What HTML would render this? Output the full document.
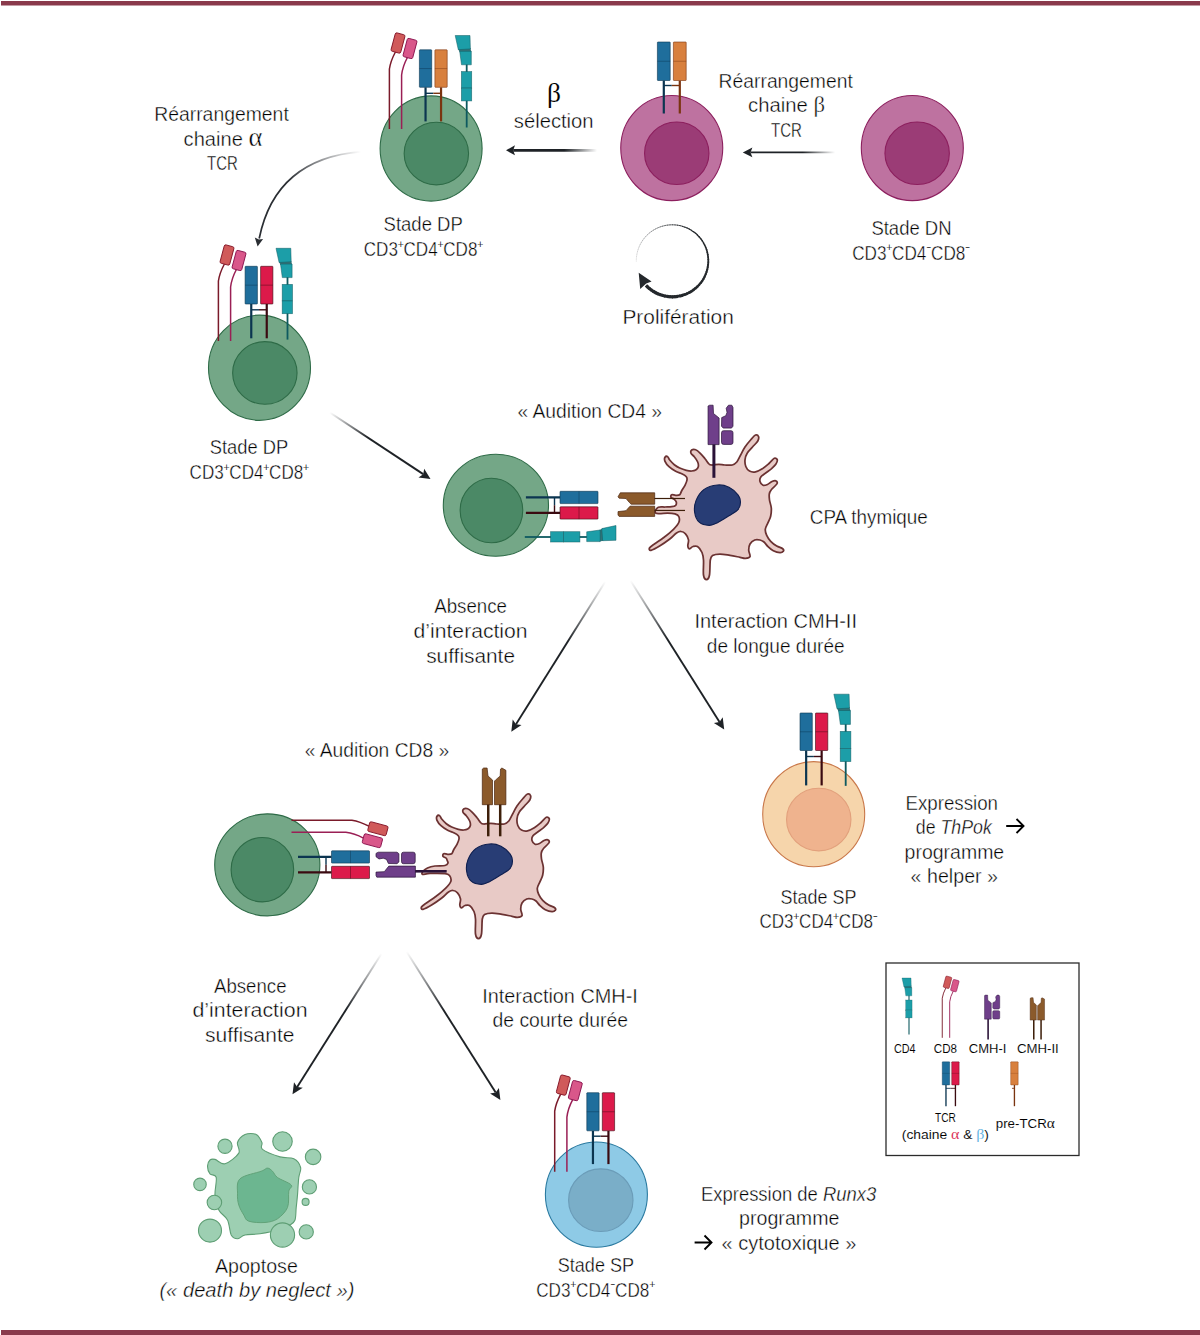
<!DOCTYPE html><html><head><meta charset="utf-8"><style>html,body{margin:0;padding:0;background:#fff;width:1200px;height:1335px;overflow:hidden}svg{display:block}text{font-family:"Liberation Sans",sans-serif;fill:#000000;stroke:#fff;stroke-width:0.4px}</style></head><body>
<svg width="1200" height="1335" viewBox="0 0 1200 1335">
<defs></defs>
<rect x="1" y="1" width="1199" height="4.5" fill="#8a3a4c"/>
<rect x="1" y="1330" width="1199" height="5" fill="#8a3a4c"/>
<ellipse cx="431.1" cy="148.5" rx="51" ry="52.6" fill="#74a787" stroke="#2e6b47" stroke-width="1.1"/>
<ellipse cx="436.35" cy="153.55" rx="32.2" ry="31.3" fill="#4b8966" stroke="#2e6b47" stroke-width="1.1"/>
<g transform="translate(398,43)">
<path d="M-2.6,9 Q-7.4,18 -8.6,26 L-8.6,86" fill="none" stroke="#7a1a2a" stroke-width="1.5"/>
<path d="M9.4,14.5 Q4.6,23.5 3.6,32 L3.6,86" fill="none" stroke="#9a1f55" stroke-width="1.5"/>
<rect x="-5" y="-9.5" width="10" height="19" rx="1.6" transform="rotate(15)" fill="#d05a5a" stroke="#86182a" stroke-width="0.9"/>
<rect x="-5" y="-9.5" width="10" height="19" rx="1.6" transform="translate(12,5.5) rotate(15)" fill="#d9578a" stroke="#8c1650" stroke-width="0.9"/>
</g>
<g transform="translate(433.3,49.8)">
<line x1="-7.75" y1="37.5" x2="-7.75" y2="71.6" stroke="#0b3550" stroke-width="2.2"/>
<line x1="7.75" y1="37.5" x2="7.75" y2="71.6" stroke="#7a3410" stroke-width="2.2"/>
<line x1="-7.75" y1="43.5" x2="0.00" y2="43.5" stroke="#0b3550" stroke-width="1.4"/>
<line x1="0.00" y1="43.5" x2="7.75" y2="43.5" stroke="#7a3410" stroke-width="1.4"/>
<rect x="-13.90" y="0" width="12.3" height="37.5" rx="0.6" fill="#1f6e9c" stroke="#0b3550" stroke-opacity="0.75" stroke-width="0.8"/>
<line x1="-13.90" y1="18.75" x2="-1.60" y2="18.75" stroke="#0b3550" stroke-opacity="0.55" stroke-width="0.8"/>
<rect x="1.60" y="0" width="12.3" height="37.5" rx="0.6" fill="#d8803e" stroke="#7a3410" stroke-opacity="0.75" stroke-width="0.8"/>
<line x1="1.60" y1="18.75" x2="13.90" y2="18.75" stroke="#7a3410" stroke-opacity="0.55" stroke-width="0.8"/>
</g>
<g transform="translate(466.7,35.5)">
<line x1="0" y1="28" x2="0" y2="37" stroke="#0e5a60" stroke-width="1.8"/>
<line x1="0" y1="64" x2="0" y2="92" stroke="#0e5a60" stroke-width="1.8"/>
<path d="M-8.6,13.2 L3.8,12.6 L4.6,16.5 L-7,16.8Z" fill="#0e5a60" opacity="0.85"/>
<path d="M-11.5,0 L3.3,0 L3.7,13.4 L-8.4,14.2Z" fill="#1c9ea8" stroke="#0e5a60" stroke-opacity="0.7" stroke-width="0.7"/>
<path d="M-7,15.8 L4.6,15.8 L4.6,29.3 L-5.2,29.3Z" fill="#1c9ea8" stroke="#0e5a60" stroke-opacity="0.7" stroke-width="0.7"/>
<rect x="-5.3" y="36.1" width="10.3" height="16.5" fill="#1c9ea8" stroke="#0e5a60" stroke-opacity="0.7" stroke-width="0.7"/>
<rect x="-5.3" y="52.6" width="10.3" height="12.8" fill="#1c9ea8" stroke="#0e5a60" stroke-opacity="0.7" stroke-width="0.7"/>
</g>
<ellipse cx="671.75" cy="148.05" rx="51" ry="52.6" fill="#be72a0" stroke="#8c1f5e" stroke-width="1.1"/>
<ellipse cx="676.75" cy="153.25" rx="32.2" ry="31.3" fill="#9b3c76" stroke="#8c1f5e" stroke-width="1.1"/>
<g transform="translate(671.8,42)">
<line x1="-8.00" y1="38.5" x2="-8.00" y2="71.5" stroke="#0b3550" stroke-width="2.2"/>
<line x1="8.00" y1="38.5" x2="8.00" y2="71.5" stroke="#7a3410" stroke-width="2.2"/>
<line x1="-8.00" y1="43.5" x2="0.00" y2="43.5" stroke="#0b3550" stroke-width="1.4"/>
<line x1="0.00" y1="43.5" x2="8.00" y2="43.5" stroke="#7a3410" stroke-width="1.4"/>
<rect x="-14.40" y="0" width="12.8" height="38.5" rx="0.6" fill="#1f6e9c" stroke="#0b3550" stroke-opacity="0.75" stroke-width="0.8"/>
<line x1="-14.40" y1="19.25" x2="-1.60" y2="19.25" stroke="#0b3550" stroke-opacity="0.55" stroke-width="0.8"/>
<rect x="1.60" y="0" width="12.8" height="38.5" rx="0.6" fill="#d8803e" stroke="#7a3410" stroke-opacity="0.75" stroke-width="0.8"/>
<line x1="1.60" y1="19.25" x2="14.40" y2="19.25" stroke="#7a3410" stroke-opacity="0.55" stroke-width="0.8"/>
</g>
<ellipse cx="912.3" cy="148.05" rx="51" ry="52.6" fill="#be72a0" stroke="#8c1f5e" stroke-width="1.1"/>
<ellipse cx="917.15" cy="153.25" rx="32.2" ry="31.3" fill="#9b3c76" stroke="#8c1f5e" stroke-width="1.1"/>
<ellipse cx="259.5" cy="367.75" rx="51" ry="52.6" fill="#74a787" stroke="#2e6b47" stroke-width="1.1"/>
<ellipse cx="264.85" cy="372.95" rx="32.2" ry="31.3" fill="#4b8966" stroke="#2e6b47" stroke-width="1.1"/>
<g transform="translate(227,255)">
<path d="M-2.6,9 Q-7.4,18 -8.6,26 L-8.6,86" fill="none" stroke="#7a1a2a" stroke-width="1.5"/>
<path d="M9.4,14.5 Q4.6,23.5 3.6,32 L3.6,86" fill="none" stroke="#9a1f55" stroke-width="1.5"/>
<rect x="-5" y="-9.5" width="10" height="19" rx="1.6" transform="rotate(15)" fill="#d05a5a" stroke="#86182a" stroke-width="0.9"/>
<rect x="-5" y="-9.5" width="10" height="19" rx="1.6" transform="translate(12,5.5) rotate(15)" fill="#d9578a" stroke="#8c1650" stroke-width="0.9"/>
</g>
<g transform="translate(259,266.3)">
<line x1="-7.75" y1="37.7" x2="-7.75" y2="72" stroke="#0b3550" stroke-width="2.2"/>
<line x1="7.75" y1="37.7" x2="7.75" y2="72" stroke="#3a0a10" stroke-width="2.2"/>
<line x1="-7.75" y1="43.5" x2="0.00" y2="43.5" stroke="#0b3550" stroke-width="1.4"/>
<line x1="0.00" y1="43.5" x2="7.75" y2="43.5" stroke="#3a0a10" stroke-width="1.4"/>
<rect x="-13.90" y="0" width="12.3" height="37.7" rx="0.6" fill="#1f6e9c" stroke="#0b3550" stroke-opacity="0.75" stroke-width="0.8"/>
<line x1="-13.90" y1="18.85" x2="-1.60" y2="18.85" stroke="#0b3550" stroke-opacity="0.55" stroke-width="0.8"/>
<rect x="1.60" y="0" width="12.3" height="37.7" rx="0.6" fill="#dc1a4a" stroke="#3a0a10" stroke-opacity="0.75" stroke-width="0.8"/>
<line x1="1.60" y1="18.85" x2="13.90" y2="18.85" stroke="#3a0a10" stroke-opacity="0.55" stroke-width="0.8"/>
</g>
<g transform="translate(287.5,248.3)">
<line x1="0" y1="28" x2="0" y2="37" stroke="#0e5a60" stroke-width="1.8"/>
<line x1="0" y1="64" x2="0" y2="91.3" stroke="#0e5a60" stroke-width="1.8"/>
<path d="M-8.6,13.2 L3.8,12.6 L4.6,16.5 L-7,16.8Z" fill="#0e5a60" opacity="0.85"/>
<path d="M-11.5,0 L3.3,0 L3.7,13.4 L-8.4,14.2Z" fill="#1c9ea8" stroke="#0e5a60" stroke-opacity="0.7" stroke-width="0.7"/>
<path d="M-7,15.8 L4.6,15.8 L4.6,29.3 L-5.2,29.3Z" fill="#1c9ea8" stroke="#0e5a60" stroke-opacity="0.7" stroke-width="0.7"/>
<rect x="-5.3" y="36.1" width="10.3" height="16.5" fill="#1c9ea8" stroke="#0e5a60" stroke-opacity="0.7" stroke-width="0.7"/>
<rect x="-5.3" y="52.6" width="10.3" height="12.8" fill="#1c9ea8" stroke="#0e5a60" stroke-opacity="0.7" stroke-width="0.7"/>
</g>
<ellipse cx="495.9" cy="505.25" rx="52.6" ry="51" fill="#74a787" stroke="#2e6b47" stroke-width="1.1"/>
<ellipse cx="491.45" cy="510.5" rx="31.3" ry="32.2" fill="#4b8966" stroke="#2e6b47" stroke-width="1.1"/>
<g transform="translate(0,0)">
<path d="M711.7,465.0 C713.3,465.1 716.6,464.3 718.8,464.3 C721.0,464.3 722.5,464.9 724.8,465.0 C727.0,465.1 730.3,465.5 732.3,465.0 C734.3,464.5 735.4,463.6 736.8,462.0 C738.2,460.4 739.1,457.8 740.5,455.3 C741.9,452.8 743.2,449.6 745.0,447.0 C746.8,444.4 749.2,441.5 751.0,439.5 C752.8,437.5 754.2,435.5 755.5,435.0 C756.8,434.5 758.1,435.5 758.5,436.5 C758.9,437.5 758.8,439.2 757.8,441.0 C756.8,442.8 754.2,445.0 752.5,447.0 C750.8,449.0 748.5,450.9 747.3,453.0 C746.0,455.1 745.2,457.6 745.0,459.8 C744.8,462.1 745.0,464.6 745.8,466.5 C746.5,468.4 747.9,470.1 749.5,471.0 C751.1,471.9 753.4,472.2 755.5,471.8 C757.6,471.4 760.0,470.2 762.3,468.8 C764.5,467.4 767.0,465.2 769.0,463.5 C771.0,461.8 772.9,458.9 774.3,458.3 C775.7,457.7 777.0,458.8 777.3,459.8 C777.5,460.8 776.8,462.8 775.8,464.3 C774.8,465.8 773.0,467.3 771.3,468.8 C769.5,470.3 767.0,471.9 765.3,473.3 C763.5,474.7 761.7,475.6 760.8,477.0 C759.9,478.4 759.6,480.1 760.0,481.5 C760.4,482.9 761.8,484.8 763.0,485.3 C764.2,485.8 766.0,485.1 767.5,484.5 C769.0,483.9 770.6,482.1 772.0,481.5 C773.4,480.9 774.9,480.6 775.8,480.8 C776.7,481.1 777.4,482.1 777.3,483.0 C777.2,483.9 776.0,484.9 775.0,486.0 C774.0,487.1 772.2,488.5 771.3,489.8 C770.3,491.1 769.6,492.3 769.3,494.0 C769.0,495.7 769.2,497.7 769.5,500.0 C769.8,502.3 771.1,505.3 771.3,508.0 C771.5,510.7 771.2,513.5 770.7,516.0 C770.2,518.5 768.9,520.5 768.0,522.7 C767.1,524.9 765.5,527.2 765.3,529.3 C765.1,531.4 765.8,533.3 766.7,535.3 C767.6,537.3 769.0,539.5 770.7,541.3 C772.4,543.1 774.7,544.8 776.7,546.0 C778.7,547.2 781.6,547.8 782.7,548.7 C783.8,549.6 783.8,550.6 783.3,551.3 C782.8,552.0 781.7,552.8 780.0,552.7 C778.3,552.6 775.3,551.7 773.3,550.7 C771.3,549.7 769.5,548.2 768.0,546.7 C766.5,545.2 765.3,543.1 764.0,542.0 C762.7,540.9 761.5,540.3 760.0,540.0 C758.5,539.7 756.4,539.3 754.7,540.0 C753.0,540.7 751.0,542.3 750.0,544.0 C749.0,545.7 748.7,547.9 748.7,550.0 C748.7,552.1 750.6,555.3 750.0,556.7 C749.4,558.1 747.0,558.2 745.3,558.3 C743.6,558.4 742.5,557.8 740.0,557.3 C737.5,556.8 733.3,555.8 730.0,555.3 C726.7,554.8 722.9,554.0 720.0,554.0 C717.1,554.0 714.1,554.5 712.5,555.5 C710.9,556.5 710.8,556.8 710.3,560.0 C709.8,563.2 710.1,571.8 709.5,575.0 C708.9,578.2 707.5,579.5 706.5,579.5 C705.5,579.5 704.0,578.2 703.5,575.0 C703.0,571.8 703.8,563.8 703.5,560.0 C703.2,556.2 703.0,554.8 702.0,552.5 C701.0,550.2 699.0,547.5 697.5,546.5 C696.0,545.5 694.4,546.1 693.0,546.5 C691.6,546.9 690.2,548.9 689.3,548.8 C688.4,548.7 687.9,547.3 687.8,545.8 C687.7,544.3 688.9,541.8 688.5,539.8 C688.1,537.8 686.8,535.2 685.5,533.8 C684.2,532.4 682.5,531.6 681.0,531.5 C679.5,531.4 678.4,531.8 676.5,533.0 C674.6,534.2 672.5,536.9 669.8,539.0 C667.0,541.1 663.1,543.9 660.0,545.8 C656.9,547.7 652.8,549.9 651.0,550.3 C649.2,550.7 649.0,549.0 649.5,548.0 C650.0,547.0 651.6,546.0 654.0,544.3 C656.4,542.5 660.5,540.0 663.8,537.5 C667.0,535.0 671.0,531.8 673.5,529.3 C676.0,526.8 677.9,524.6 678.8,522.5 C679.7,520.4 679.4,517.9 678.8,516.5 C678.2,515.1 676.9,514.5 675.0,513.9 C673.1,513.3 670.2,513.1 667.5,513.1 C664.8,513.1 660.6,513.8 658.5,513.6 C656.4,513.4 655.0,513.0 655.0,512.0 C655.0,510.9 656.6,508.1 658.3,507.3 C660.0,506.5 662.8,507.1 665.0,507.0 C667.2,506.9 669.9,507.0 671.7,506.7 C673.5,506.4 674.9,506.1 675.7,505.3 C676.5,504.5 676.5,503.0 676.3,502.0 C676.1,501.0 675.2,500.1 674.3,499.3 C673.4,498.5 671.4,498.1 671.0,497.3 C670.6,496.5 670.9,495.0 671.7,494.7 C672.5,494.4 674.4,495.3 675.7,495.3 C677.0,495.3 678.7,495.5 679.7,494.7 C680.7,493.9 680.8,492.3 681.7,490.7 C682.6,489.1 684.1,487.1 685.0,485.3 C685.9,483.5 686.8,481.4 687.0,480.0 C687.2,478.6 687.1,477.7 686.3,476.7 C685.5,475.7 684.1,474.9 682.3,474.0 C680.5,473.1 677.9,472.5 675.7,471.3 C673.5,470.1 670.8,468.4 669.0,466.7 C667.2,465.0 665.7,462.9 665.0,461.3 C664.3,459.7 664.5,458.1 665.0,457.3 C665.5,456.5 666.9,456.2 667.7,456.7 C668.5,457.1 668.6,458.7 669.7,460.0 C670.8,461.3 672.6,463.4 674.3,464.7 C676.0,466.0 677.7,467.1 679.7,468.0 C681.7,468.9 684.3,469.8 686.3,470.3 C688.3,470.8 690.1,471.1 691.7,471.0 C693.3,470.9 694.6,470.7 695.7,470.0 C696.8,469.3 698.0,468.0 698.3,466.7 C698.6,465.4 698.4,463.7 697.7,462.0 C697.0,460.3 695.4,458.1 694.3,456.7 C693.2,455.2 691.4,454.4 691.0,453.3 C690.6,452.2 690.9,450.6 691.7,450.0 C692.5,449.4 694.3,449.1 695.7,449.7 C697.1,450.2 698.8,451.8 700.3,453.3 C701.8,454.8 703.5,456.9 705.0,458.7 C706.5,460.5 707.9,462.9 709.0,464.0 C710.1,465.1 710.1,464.9 711.7,465.0Z" fill="#e8cac6" stroke="#6b3232" stroke-width="1.75" stroke-linejoin="round"/>
<path d="M717.5,485.0 C721.7,484.6 725.5,485.6 729.0,487.3 C732.5,489.0 736.3,492.7 738.2,495.1 C740.1,497.6 740.5,499.6 740.5,502.0 C740.5,504.4 740.1,507.1 738.2,509.4 C736.3,511.7 732.5,513.6 729.0,515.8 C725.5,518.0 720.8,521.1 717.5,522.7 C714.2,524.3 712.3,525.5 709.3,525.4 C706.2,525.3 701.7,524.4 699.2,522.2 C696.8,520.0 695.1,515.7 694.6,512.1 C694.1,508.5 694.5,504.4 696.0,500.6 C697.5,496.9 700.2,492.2 703.8,489.6 C707.4,487.0 713.3,485.4 717.5,485.0Z" fill="#283d75" stroke="#0f1f4f" stroke-width="1.1"/>
</g>
<g transform="translate(713.9,405.2)">
<line x1="0" y1="39" x2="0" y2="72.6" stroke="#2a1238" stroke-width="3"/>
<path d="M-5.85,0.8 L-4.2,0 L-0.8,0 L-0.4,8.3 L5.2,12.8 L5.2,39.4 L-5.85,39.4Z" fill="#6f3f8a" stroke="#2a1238" stroke-width="0.7"/>
<path d="M7.8,12.4 L11.9,10.5 L13.1,7.2 L12.3,3 L14.6,0 L17.9,0 L19.1,2.3 L19.1,21 L17.6,22.9 L9.3,22.9 L7.6,21Z" fill="#6f3f8a" stroke="#2a1238" stroke-width="0.7"/>
<rect x="7.6" y="25.5" width="11.5" height="13.7" rx="2" fill="#6f3f8a" stroke="#2a1238" stroke-width="0.7"/>
</g>
<g transform="translate(598,505.2) rotate(90)">
<line x1="-7.75" y1="38" x2="-7.75" y2="72.1" stroke="#0b3550" stroke-width="2.2"/>
<line x1="7.75" y1="38" x2="7.75" y2="72.1" stroke="#3a0a10" stroke-width="2.2"/>
<line x1="-7.75" y1="43.5" x2="0.00" y2="43.5" stroke="#0b3550" stroke-width="1.4"/>
<line x1="0.00" y1="43.5" x2="7.75" y2="43.5" stroke="#3a0a10" stroke-width="1.4"/>
<rect x="-13.90" y="0" width="12.3" height="38" rx="0.6" fill="#1f6e9c" stroke="#0b3550" stroke-opacity="0.75" stroke-width="0.8"/>
<line x1="-13.90" y1="19.0" x2="-1.60" y2="19.0" stroke="#0b3550" stroke-opacity="0.55" stroke-width="0.8"/>
<rect x="1.60" y="0" width="12.3" height="38" rx="0.6" fill="#dc1a4a" stroke="#3a0a10" stroke-opacity="0.75" stroke-width="0.8"/>
<line x1="1.60" y1="19.0" x2="13.90" y2="19.0" stroke="#3a0a10" stroke-opacity="0.55" stroke-width="0.8"/>
</g>
<g transform="translate(616,537) rotate(90)">
<line x1="0" y1="28" x2="0" y2="37" stroke="#0e5a60" stroke-width="1.8"/>
<line x1="0" y1="64" x2="0" y2="91.2" stroke="#0e5a60" stroke-width="1.8"/>
<path d="M-8.6,13.2 L3.8,12.6 L4.6,16.5 L-7,16.8Z" fill="#0e5a60" opacity="0.85"/>
<path d="M-11.5,0 L3.3,0 L3.7,13.4 L-8.4,14.2Z" fill="#1c9ea8" stroke="#0e5a60" stroke-opacity="0.7" stroke-width="0.7"/>
<path d="M-7,15.8 L4.6,15.8 L4.6,29.3 L-5.2,29.3Z" fill="#1c9ea8" stroke="#0e5a60" stroke-opacity="0.7" stroke-width="0.7"/>
<rect x="-5.3" y="36.1" width="10.3" height="16.5" fill="#1c9ea8" stroke="#0e5a60" stroke-opacity="0.7" stroke-width="0.7"/>
<rect x="-5.3" y="52.6" width="10.3" height="12.8" fill="#1c9ea8" stroke="#0e5a60" stroke-opacity="0.7" stroke-width="0.7"/>
</g>
<g transform="translate(618,504.5) rotate(-90)">
<line x1="-5.95" y1="36" x2="-5.95" y2="67" stroke="#3d1f0a" stroke-width="1.2"/>
<line x1="6" y1="36" x2="6" y2="67" stroke="#3d1f0a" stroke-width="1.2"/>
<path d="M-11.9,1.1 L-10.5,0 L-7.1,0 L-6.2,8 L-1.7,12 L-1.7,36.7 L-11.9,36.7Z" fill="#8b5a2b" stroke="#4a2510" stroke-width="0.7"/>
<path d="M0.3,13.1 L2,11.4 L6,8 L6.3,1.1 L7.7,0 L11.7,2.3 L11.7,36.7 L0.3,36.7Z" fill="#8b5a2b" stroke="#4a2510" stroke-width="0.7"/>
</g>
<ellipse cx="267.3" cy="864.85" rx="52.6" ry="51" fill="#74a787" stroke="#2e6b47" stroke-width="1.1"/>
<ellipse cx="262.4" cy="869.7" rx="31.3" ry="32.2" fill="#4b8966" stroke="#2e6b47" stroke-width="1.1"/>
<g transform="translate(-228,359)">
<path d="M711.7,465.0 C713.3,465.1 716.6,464.3 718.8,464.3 C721.0,464.3 722.5,464.9 724.8,465.0 C727.0,465.1 730.3,465.5 732.3,465.0 C734.3,464.5 735.4,463.6 736.8,462.0 C738.2,460.4 739.1,457.8 740.5,455.3 C741.9,452.8 743.2,449.6 745.0,447.0 C746.8,444.4 749.2,441.5 751.0,439.5 C752.8,437.5 754.2,435.5 755.5,435.0 C756.8,434.5 758.1,435.5 758.5,436.5 C758.9,437.5 758.8,439.2 757.8,441.0 C756.8,442.8 754.2,445.0 752.5,447.0 C750.8,449.0 748.5,450.9 747.3,453.0 C746.0,455.1 745.2,457.6 745.0,459.8 C744.8,462.1 745.0,464.6 745.8,466.5 C746.5,468.4 747.9,470.1 749.5,471.0 C751.1,471.9 753.4,472.2 755.5,471.8 C757.6,471.4 760.0,470.2 762.3,468.8 C764.5,467.4 767.0,465.2 769.0,463.5 C771.0,461.8 772.9,458.9 774.3,458.3 C775.7,457.7 777.0,458.8 777.3,459.8 C777.5,460.8 776.8,462.8 775.8,464.3 C774.8,465.8 773.0,467.3 771.3,468.8 C769.5,470.3 767.0,471.9 765.3,473.3 C763.5,474.7 761.7,475.6 760.8,477.0 C759.9,478.4 759.6,480.1 760.0,481.5 C760.4,482.9 761.8,484.8 763.0,485.3 C764.2,485.8 766.0,485.1 767.5,484.5 C769.0,483.9 770.6,482.1 772.0,481.5 C773.4,480.9 774.9,480.6 775.8,480.8 C776.7,481.1 777.4,482.1 777.3,483.0 C777.2,483.9 776.0,484.9 775.0,486.0 C774.0,487.1 772.2,488.5 771.3,489.8 C770.3,491.1 769.6,492.3 769.3,494.0 C769.0,495.7 769.2,497.7 769.5,500.0 C769.8,502.3 771.1,505.3 771.3,508.0 C771.5,510.7 771.2,513.5 770.7,516.0 C770.2,518.5 768.9,520.5 768.0,522.7 C767.1,524.9 765.5,527.2 765.3,529.3 C765.1,531.4 765.8,533.3 766.7,535.3 C767.6,537.3 769.0,539.5 770.7,541.3 C772.4,543.1 774.7,544.8 776.7,546.0 C778.7,547.2 781.6,547.8 782.7,548.7 C783.8,549.6 783.8,550.6 783.3,551.3 C782.8,552.0 781.7,552.8 780.0,552.7 C778.3,552.6 775.3,551.7 773.3,550.7 C771.3,549.7 769.5,548.2 768.0,546.7 C766.5,545.2 765.3,543.1 764.0,542.0 C762.7,540.9 761.5,540.3 760.0,540.0 C758.5,539.7 756.4,539.3 754.7,540.0 C753.0,540.7 751.0,542.3 750.0,544.0 C749.0,545.7 748.7,547.9 748.7,550.0 C748.7,552.1 750.6,555.3 750.0,556.7 C749.4,558.1 747.0,558.2 745.3,558.3 C743.6,558.4 742.5,557.8 740.0,557.3 C737.5,556.8 733.3,555.8 730.0,555.3 C726.7,554.8 722.9,554.0 720.0,554.0 C717.1,554.0 714.1,554.5 712.5,555.5 C710.9,556.5 710.8,556.8 710.3,560.0 C709.8,563.2 710.1,571.8 709.5,575.0 C708.9,578.2 707.5,579.5 706.5,579.5 C705.5,579.5 704.0,578.2 703.5,575.0 C703.0,571.8 703.8,563.8 703.5,560.0 C703.2,556.2 703.0,554.8 702.0,552.5 C701.0,550.2 699.0,547.5 697.5,546.5 C696.0,545.5 694.4,546.1 693.0,546.5 C691.6,546.9 690.2,548.9 689.3,548.8 C688.4,548.7 687.9,547.3 687.8,545.8 C687.7,544.3 688.9,541.8 688.5,539.8 C688.1,537.8 686.8,535.2 685.5,533.8 C684.2,532.4 682.5,531.6 681.0,531.5 C679.5,531.4 678.4,531.8 676.5,533.0 C674.6,534.2 672.5,536.9 669.8,539.0 C667.0,541.1 663.1,543.9 660.0,545.8 C656.9,547.7 652.8,549.9 651.0,550.3 C649.2,550.7 649.0,549.0 649.5,548.0 C650.0,547.0 651.6,546.0 654.0,544.3 C656.4,542.5 660.5,540.0 663.8,537.5 C667.0,535.0 671.0,531.8 673.5,529.3 C676.0,526.8 678.1,524.6 678.8,522.5 C679.5,520.4 678.5,517.8 677.5,516.5 C676.5,515.2 676.2,515.0 673.0,514.6 C669.8,514.2 661.8,514.3 658.0,514.4 C654.2,514.5 651.7,515.6 650.5,515.3 C649.3,514.9 650.2,513.3 651.0,512.3 C651.8,511.2 653.5,509.9 655.5,509.0 C657.5,508.1 660.1,507.4 663.0,507.0 C665.9,506.6 670.8,507.0 673.0,506.5 C675.2,506.0 675.7,504.9 676.0,504.0 C676.3,503.1 675.3,501.8 675.0,501.0 C674.7,500.2 675.0,499.9 674.3,499.3 C673.6,498.7 671.4,498.1 671.0,497.3 C670.6,496.5 670.9,495.0 671.7,494.7 C672.5,494.4 674.4,495.3 675.7,495.3 C677.0,495.3 678.7,495.5 679.7,494.7 C680.7,493.9 680.8,492.3 681.7,490.7 C682.6,489.1 684.1,487.1 685.0,485.3 C685.9,483.5 686.8,481.4 687.0,480.0 C687.2,478.6 687.1,477.7 686.3,476.7 C685.5,475.7 684.1,474.9 682.3,474.0 C680.5,473.1 677.9,472.5 675.7,471.3 C673.5,470.1 670.8,468.4 669.0,466.7 C667.2,465.0 665.7,462.9 665.0,461.3 C664.3,459.7 664.5,458.1 665.0,457.3 C665.5,456.5 666.9,456.2 667.7,456.7 C668.5,457.1 668.6,458.7 669.7,460.0 C670.8,461.3 672.6,463.4 674.3,464.7 C676.0,466.0 677.7,467.1 679.7,468.0 C681.7,468.9 684.3,469.8 686.3,470.3 C688.3,470.8 690.1,471.1 691.7,471.0 C693.3,470.9 694.6,470.7 695.7,470.0 C696.8,469.3 698.0,468.0 698.3,466.7 C698.6,465.4 698.4,463.7 697.7,462.0 C697.0,460.3 695.4,458.1 694.3,456.7 C693.2,455.2 691.4,454.4 691.0,453.3 C690.6,452.2 690.9,450.6 691.7,450.0 C692.5,449.4 694.3,449.1 695.7,449.7 C697.1,450.2 698.8,451.8 700.3,453.3 C701.8,454.8 703.5,456.9 705.0,458.7 C706.5,460.5 707.9,462.9 709.0,464.0 C710.1,465.1 710.1,464.9 711.7,465.0Z" fill="#e8cac6" stroke="#6b3232" stroke-width="1.75" stroke-linejoin="round"/>
<path d="M717.5,485.0 C721.7,484.6 725.5,485.6 729.0,487.3 C732.5,489.0 736.3,492.7 738.2,495.1 C740.1,497.6 740.5,499.6 740.5,502.0 C740.5,504.4 740.1,507.1 738.2,509.4 C736.3,511.7 732.5,513.6 729.0,515.8 C725.5,518.0 720.8,521.1 717.5,522.7 C714.2,524.3 712.3,525.5 709.3,525.4 C706.2,525.3 701.7,524.4 699.2,522.2 C696.8,520.0 695.1,515.7 694.6,512.1 C694.1,508.5 694.5,504.4 696.0,500.6 C697.5,496.9 700.2,492.2 703.8,489.6 C707.4,487.0 713.3,485.4 717.5,485.0Z" fill="#283d75" stroke="#0f1f4f" stroke-width="1.1"/>
</g>
<g transform="translate(494.2,768)">
<line x1="-5.95" y1="36" x2="-5.95" y2="68.3" stroke="#3d1f0a" stroke-width="2.5"/>
<line x1="6" y1="36" x2="6" y2="68.3" stroke="#3d1f0a" stroke-width="2.5"/>
<path d="M-11.9,1.1 L-10.5,0 L-7.1,0 L-6.2,8 L-1.7,12 L-1.7,36.7 L-11.9,36.7Z" fill="#8b5a2b" stroke="#4a2510" stroke-width="0.7"/>
<path d="M0.3,13.1 L2,11.4 L6,8 L6.3,1.1 L7.7,0 L11.7,2.3 L11.7,36.7 L0.3,36.7Z" fill="#8b5a2b" stroke="#4a2510" stroke-width="0.7"/>
</g>
<g transform="translate(377.9,828.75) rotate(90)">
<path d="M-2.6,9 Q-7.4,18 -8.6,26 L-8.6,86.4" fill="none" stroke="#7a1a2a" stroke-width="1.5"/>
<path d="M9.4,14.5 Q4.6,23.5 3.6,32 L3.6,86.4" fill="none" stroke="#9a1f55" stroke-width="1.5"/>
<rect x="-5" y="-9.5" width="10" height="19" rx="1.6" transform="rotate(15)" fill="#d05a5a" stroke="#86182a" stroke-width="0.9"/>
<rect x="-5" y="-9.5" width="10" height="19" rx="1.6" transform="translate(12,5.5) rotate(15)" fill="#d9578a" stroke="#8c1650" stroke-width="0.9"/>
</g>
<g transform="translate(369.5,864.7) rotate(90)">
<line x1="-7.75" y1="38" x2="-7.75" y2="71.5" stroke="#0b3550" stroke-width="2.2"/>
<line x1="7.75" y1="38" x2="7.75" y2="71.5" stroke="#3a0a10" stroke-width="2.2"/>
<line x1="-7.75" y1="43.5" x2="0.00" y2="43.5" stroke="#0b3550" stroke-width="1.4"/>
<line x1="0.00" y1="43.5" x2="7.75" y2="43.5" stroke="#3a0a10" stroke-width="1.4"/>
<rect x="-13.90" y="0" width="12.3" height="38" rx="0.6" fill="#1f6e9c" stroke="#0b3550" stroke-opacity="0.75" stroke-width="0.8"/>
<line x1="-13.90" y1="19.0" x2="-1.60" y2="19.0" stroke="#0b3550" stroke-opacity="0.55" stroke-width="0.8"/>
<rect x="1.60" y="0" width="12.3" height="38" rx="0.6" fill="#dc1a4a" stroke="#3a0a10" stroke-opacity="0.75" stroke-width="0.8"/>
<line x1="1.60" y1="19.0" x2="13.90" y2="19.0" stroke="#3a0a10" stroke-opacity="0.55" stroke-width="0.8"/>
</g>
<g transform="translate(376,871.3) rotate(-90)">
<line x1="0" y1="39" x2="0" y2="70.7" stroke="#2a1238" stroke-width="2.6"/>
<path d="M-5.85,0.8 L-4.2,0 L-0.8,0 L-0.4,8.3 L5.2,12.8 L5.2,39.4 L-5.85,39.4Z" fill="#6f3f8a" stroke="#2a1238" stroke-width="0.7"/>
<path d="M7.8,12.4 L11.9,10.5 L13.1,7.2 L12.3,3 L14.6,0 L17.9,0 L19.1,2.3 L19.1,21 L17.6,22.9 L9.3,22.9 L7.6,21Z" fill="#6f3f8a" stroke="#2a1238" stroke-width="0.7"/>
<rect x="7.6" y="25.5" width="11.5" height="13.7" rx="2" fill="#6f3f8a" stroke="#2a1238" stroke-width="0.7"/>
</g>
<ellipse cx="813.7" cy="814.2" rx="51" ry="52.6" fill="#f6d5ab" stroke="#c9784a" stroke-width="1.1"/>
<ellipse cx="818.75" cy="819.55" rx="32.2" ry="31.3" fill="#efb38e" stroke="#e2a07c" stroke-width="1.1"/>
<g transform="translate(813.9,713)">
<line x1="-7.75" y1="37.5" x2="-7.75" y2="72.4" stroke="#0b3550" stroke-width="2.2"/>
<line x1="7.75" y1="37.5" x2="7.75" y2="72.4" stroke="#3a0a10" stroke-width="2.2"/>
<line x1="-7.75" y1="43.5" x2="0.00" y2="43.5" stroke="#0b3550" stroke-width="1.4"/>
<line x1="0.00" y1="43.5" x2="7.75" y2="43.5" stroke="#3a0a10" stroke-width="1.4"/>
<rect x="-13.90" y="0" width="12.3" height="37.5" rx="0.6" fill="#1f6e9c" stroke="#0b3550" stroke-opacity="0.75" stroke-width="0.8"/>
<line x1="-13.90" y1="18.75" x2="-1.60" y2="18.75" stroke="#0b3550" stroke-opacity="0.55" stroke-width="0.8"/>
<rect x="1.60" y="0" width="12.3" height="37.5" rx="0.6" fill="#dc1a4a" stroke="#3a0a10" stroke-opacity="0.75" stroke-width="0.8"/>
<line x1="1.60" y1="18.75" x2="13.90" y2="18.75" stroke="#3a0a10" stroke-opacity="0.55" stroke-width="0.8"/>
</g>
<g transform="translate(845.7,694.2) scale(1.03)">
<line x1="0" y1="28" x2="0" y2="37" stroke="#0e5a60" stroke-width="1.8"/>
<line x1="0" y1="64" x2="0" y2="89" stroke="#0e5a60" stroke-width="1.8"/>
<path d="M-8.6,13.2 L3.8,12.6 L4.6,16.5 L-7,16.8Z" fill="#0e5a60" opacity="0.85"/>
<path d="M-11.5,0 L3.3,0 L3.7,13.4 L-8.4,14.2Z" fill="#1c9ea8" stroke="#0e5a60" stroke-opacity="0.7" stroke-width="0.7"/>
<path d="M-7,15.8 L4.6,15.8 L4.6,29.3 L-5.2,29.3Z" fill="#1c9ea8" stroke="#0e5a60" stroke-opacity="0.7" stroke-width="0.7"/>
<rect x="-5.3" y="36.1" width="10.3" height="16.5" fill="#1c9ea8" stroke="#0e5a60" stroke-opacity="0.7" stroke-width="0.7"/>
<rect x="-5.3" y="52.6" width="10.3" height="12.8" fill="#1c9ea8" stroke="#0e5a60" stroke-opacity="0.7" stroke-width="0.7"/>
</g>
<ellipse cx="596.4" cy="1194.6" rx="51" ry="52.6" fill="#8ecae6" stroke="#2a7aa0" stroke-width="1.1"/>
<ellipse cx="600.8" cy="1200.15" rx="32.2" ry="31.3" fill="#7aaec8" stroke="#6b9cb8" stroke-width="1.1"/>
<g transform="translate(563.3,1085.1)">
<path d="M-2.6,9 Q-7.4,18 -8.6,26 L-8.6,86.6" fill="none" stroke="#7a1a2a" stroke-width="1.5"/>
<path d="M9.4,14.5 Q4.6,23.5 3.6,32 L3.6,86.6" fill="none" stroke="#9a1f55" stroke-width="1.5"/>
<rect x="-5" y="-9.5" width="10" height="19" rx="1.6" transform="rotate(15)" fill="#d05a5a" stroke="#86182a" stroke-width="0.9"/>
<rect x="-5" y="-9.5" width="10" height="19" rx="1.6" transform="translate(12,5.5) rotate(15)" fill="#d9578a" stroke="#8c1650" stroke-width="0.9"/>
</g>
<g transform="translate(600.7,1092.7)">
<line x1="-7.75" y1="38.1" x2="-7.75" y2="71.4" stroke="#0b3550" stroke-width="2.2"/>
<line x1="7.75" y1="38.1" x2="7.75" y2="71.4" stroke="#3a0a10" stroke-width="2.2"/>
<line x1="-7.75" y1="43.5" x2="0.00" y2="43.5" stroke="#0b3550" stroke-width="1.4"/>
<line x1="0.00" y1="43.5" x2="7.75" y2="43.5" stroke="#3a0a10" stroke-width="1.4"/>
<rect x="-13.90" y="0" width="12.3" height="38.1" rx="0.6" fill="#1f6e9c" stroke="#0b3550" stroke-opacity="0.75" stroke-width="0.8"/>
<line x1="-13.90" y1="19.05" x2="-1.60" y2="19.05" stroke="#0b3550" stroke-opacity="0.55" stroke-width="0.8"/>
<rect x="1.60" y="0" width="12.3" height="38.1" rx="0.6" fill="#dc1a4a" stroke="#3a0a10" stroke-opacity="0.75" stroke-width="0.8"/>
<line x1="1.60" y1="19.05" x2="13.90" y2="19.05" stroke="#3a0a10" stroke-opacity="0.55" stroke-width="0.8"/>
</g>
<linearGradient id="g1" gradientUnits="userSpaceOnUse" x1="597" y1="150.3" x2="564.2" y2="150.3"><stop offset="0" stop-color="#1e2226" stop-opacity="0"/><stop offset="1" stop-color="#1e2226" stop-opacity="1"/></linearGradient>
<line x1="597" y1="150.3" x2="513.2" y2="150.3" stroke="url(#g1)" stroke-width="2.7"/>
<path d="M506.0,150.3 L515.0,145.3 L513.2,150.3 L515.0,155.3Z" fill="#1e2226"/>
<linearGradient id="g2" gradientUnits="userSpaceOnUse" x1="835" y1="152.4" x2="802.7" y2="152.4"><stop offset="0" stop-color="#1e2226" stop-opacity="0"/><stop offset="1" stop-color="#1e2226" stop-opacity="1"/></linearGradient>
<line x1="835" y1="152.4" x2="750.5" y2="152.4" stroke="url(#g2)" stroke-width="1.9"/>
<path d="M742.8,152.4 L752.4,147.5 L750.5,152.4 L752.4,157.3Z" fill="#1e2226"/>
<linearGradient id="g3" gradientUnits="userSpaceOnUse" x1="329.8" y1="412.5" x2="368.1" y2="437.8"><stop offset="0" stop-color="#1e2226" stop-opacity="0"/><stop offset="1" stop-color="#1e2226" stop-opacity="1"/></linearGradient>
<line x1="329.8" y1="412.5" x2="423.2" y2="474.2" stroke="url(#g3)" stroke-width="2.0"/>
<path d="M430.5,479.1 L418.5,477.4 L423.2,474.2 L424.2,468.7Z" fill="#1e2226"/>
<linearGradient id="g4" gradientUnits="userSpaceOnUse" x1="605.4" y1="581.5" x2="567.8" y2="641.6"><stop offset="0" stop-color="#1e2226" stop-opacity="0"/><stop offset="1" stop-color="#1e2226" stop-opacity="1"/></linearGradient>
<line x1="605.4" y1="581.5" x2="516.0" y2="724.2" stroke="url(#g4)" stroke-width="1.9"/>
<path d="M511.3,731.7 L512.7,719.6 L516.0,724.2 L521.5,725.1Z" fill="#1e2226"/>
<linearGradient id="g5" gradientUnits="userSpaceOnUse" x1="630.4" y1="580.4" x2="667.9" y2="640.0"><stop offset="0" stop-color="#1e2226" stop-opacity="0"/><stop offset="1" stop-color="#1e2226" stop-opacity="1"/></linearGradient>
<line x1="630.4" y1="580.4" x2="719.5" y2="722.0" stroke="url(#g5)" stroke-width="1.9"/>
<path d="M724.2,729.4 L713.9,722.9 L719.5,722.0 L722.7,717.3Z" fill="#1e2226"/>
<linearGradient id="g6" gradientUnits="userSpaceOnUse" x1="381.6" y1="953.4" x2="346.0" y2="1009.8"><stop offset="0" stop-color="#1e2226" stop-opacity="0"/><stop offset="1" stop-color="#1e2226" stop-opacity="1"/></linearGradient>
<line x1="381.6" y1="953.4" x2="297.2" y2="1086.9" stroke="url(#g6)" stroke-width="1.9"/>
<path d="M292.5,1094.3 L294.0,1082.2 L297.2,1086.9 L302.8,1087.8Z" fill="#1e2226"/>
<linearGradient id="g7" gradientUnits="userSpaceOnUse" x1="406.5" y1="951.5" x2="444.1" y2="1010.9"><stop offset="0" stop-color="#1e2226" stop-opacity="0"/><stop offset="1" stop-color="#1e2226" stop-opacity="1"/></linearGradient>
<line x1="406.5" y1="951.5" x2="495.7" y2="1092.6" stroke="url(#g7)" stroke-width="1.9"/>
<path d="M500.4,1100.0 L490.1,1093.5 L495.7,1092.6 L498.9,1087.9Z" fill="#1e2226"/>
<linearGradient id="cg1" gradientUnits="userSpaceOnUse" x1="361" y1="152" x2="290" y2="185"><stop offset="0" stop-color="#2a2e33" stop-opacity="0"/><stop offset="1" stop-color="#2a2e33"/></linearGradient>
<path d="M361.3,151.7 Q275.5,158.6 259.2,238.5" fill="none" stroke="url(#cg1)" stroke-width="1.7"/>
<path d="M257.6,246.5 L254.8,237.6 L258.9,239.6 L263.1,238.9Z" fill="#2a2e33"/>
<path d="M636.32,262.06 A36,36 0 0 1 636.36,258.75" fill="none" stroke="#24282c" stroke-opacity="0.16" stroke-width="0.50"/>
<path d="M636.32,259.55 A36,36 0 0 1 636.59,256.26" fill="none" stroke="#24282c" stroke-opacity="0.19" stroke-width="0.50"/>
<path d="M636.50,257.05 A36,36 0 0 1 636.99,253.78" fill="none" stroke="#24282c" stroke-opacity="0.22" stroke-width="0.51"/>
<path d="M636.84,254.57 A36,36 0 0 1 637.56,251.35" fill="none" stroke="#24282c" stroke-opacity="0.25" stroke-width="0.51"/>
<path d="M637.36,252.12 A36,36 0 0 1 638.31,248.95" fill="none" stroke="#24282c" stroke-opacity="0.27" stroke-width="0.52"/>
<path d="M638.05,249.71 A36,36 0 0 1 639.21,246.62" fill="none" stroke="#24282c" stroke-opacity="0.30" stroke-width="0.53"/>
<path d="M638.90,247.36 A36,36 0 0 1 640.28,244.35" fill="none" stroke="#24282c" stroke-opacity="0.33" stroke-width="0.54"/>
<path d="M639.92,245.07 A36,36 0 0 1 641.50,242.16" fill="none" stroke="#24282c" stroke-opacity="0.36" stroke-width="0.55"/>
<path d="M641.09,242.85 A36,36 0 0 1 642.87,240.07" fill="none" stroke="#24282c" stroke-opacity="0.38" stroke-width="0.56"/>
<path d="M642.42,240.73 A36,36 0 0 1 644.38,238.07" fill="none" stroke="#24282c" stroke-opacity="0.41" stroke-width="0.58"/>
<path d="M643.88,238.70 A36,36 0 0 1 646.03,236.18" fill="none" stroke="#24282c" stroke-opacity="0.44" stroke-width="0.59"/>
<path d="M645.49,236.78 A36,36 0 0 1 647.81,234.42" fill="none" stroke="#24282c" stroke-opacity="0.47" stroke-width="0.61"/>
<path d="M647.22,234.97 A36,36 0 0 1 649.70,232.78" fill="none" stroke="#24282c" stroke-opacity="0.49" stroke-width="0.63"/>
<path d="M649.08,233.29 A36,36 0 0 1 651.70,231.27" fill="none" stroke="#24282c" stroke-opacity="0.52" stroke-width="0.65"/>
<path d="M651.05,231.74 A36,36 0 0 1 653.81,229.91" fill="none" stroke="#24282c" stroke-opacity="0.55" stroke-width="0.67"/>
<path d="M653.12,230.33 A36,36 0 0 1 656.00,228.70" fill="none" stroke="#24282c" stroke-opacity="0.58" stroke-width="0.69"/>
<path d="M655.29,229.07 A36,36 0 0 1 658.27,227.65" fill="none" stroke="#24282c" stroke-opacity="0.60" stroke-width="0.71"/>
<path d="M657.54,227.97 A36,36 0 0 1 660.61,226.75" fill="none" stroke="#24282c" stroke-opacity="0.63" stroke-width="0.73"/>
<path d="M659.85,227.02 A36,36 0 0 1 663.01,226.02" fill="none" stroke="#24282c" stroke-opacity="0.66" stroke-width="0.76"/>
<path d="M662.23,226.24 A36,36 0 0 1 665.45,225.46" fill="none" stroke="#24282c" stroke-opacity="0.69" stroke-width="0.79"/>
<path d="M664.66,225.62 A36,36 0 0 1 667.92,225.07" fill="none" stroke="#24282c" stroke-opacity="0.71" stroke-width="0.81"/>
<path d="M667.13,225.17 A36,36 0 0 1 670.42,224.85" fill="none" stroke="#24282c" stroke-opacity="0.74" stroke-width="0.84"/>
<path d="M669.62,224.90 A36,36 0 0 1 672.92,224.81" fill="none" stroke="#24282c" stroke-opacity="0.77" stroke-width="0.87"/>
<path d="M672.12,224.80 A36,36 0 0 1 675.42,224.94" fill="none" stroke="#24282c" stroke-opacity="0.80" stroke-width="0.90"/>
<path d="M674.62,224.88 A36,36 0 0 1 677.91,225.24" fill="none" stroke="#24282c" stroke-opacity="0.82" stroke-width="0.93"/>
<path d="M677.12,225.12 A36,36 0 0 1 680.37,225.72" fill="none" stroke="#24282c" stroke-opacity="0.85" stroke-width="0.96"/>
<path d="M679.58,225.54 A36,36 0 0 1 682.79,226.36" fill="none" stroke="#24282c" stroke-opacity="0.88" stroke-width="1.00"/>
<path d="M682.02,226.14 A36,36 0 0 1 685.16,227.17" fill="none" stroke="#24282c" stroke-opacity="0.91" stroke-width="1.03"/>
<path d="M684.41,226.90 A36,36 0 0 1 687.46,228.15" fill="none" stroke="#24282c" stroke-opacity="0.93" stroke-width="1.06"/>
<path d="M686.73,227.82 A36,36 0 0 1 689.70,229.28" fill="none" stroke="#24282c" stroke-opacity="0.96" stroke-width="1.10"/>
<path d="M688.99,228.90 A36,36 0 0 1 691.85,230.57" fill="none" stroke="#24282c" stroke-opacity="0.99" stroke-width="1.14"/>
<path d="M691.17,230.14 A36,36 0 0 1 693.90,232.00" fill="none" stroke="#24282c" stroke-opacity="1.00" stroke-width="1.18"/>
<path d="M693.26,231.53 A36,36 0 0 1 695.85,233.57" fill="none" stroke="#24282c" stroke-opacity="1.00" stroke-width="1.21"/>
<path d="M695.24,233.06 A36,36 0 0 1 697.69,235.28" fill="none" stroke="#24282c" stroke-opacity="1.00" stroke-width="1.25"/>
<path d="M697.11,234.72 A36,36 0 0 1 699.40,237.11" fill="none" stroke="#24282c" stroke-opacity="1.00" stroke-width="1.30"/>
<path d="M698.87,236.51 A36,36 0 0 1 700.98,239.05" fill="none" stroke="#24282c" stroke-opacity="1.00" stroke-width="1.34"/>
<path d="M700.49,238.41 A36,36 0 0 1 702.43,241.09" fill="none" stroke="#24282c" stroke-opacity="1.00" stroke-width="1.38"/>
<path d="M701.98,240.43 A36,36 0 0 1 703.73,243.24" fill="none" stroke="#24282c" stroke-opacity="1.00" stroke-width="1.42"/>
<path d="M703.33,242.54 A36,36 0 0 1 704.87,245.47" fill="none" stroke="#24282c" stroke-opacity="1.00" stroke-width="1.47"/>
<path d="M704.52,244.74 A36,36 0 0 1 705.86,247.77" fill="none" stroke="#24282c" stroke-opacity="1.00" stroke-width="1.52"/>
<path d="M705.56,247.02 A36,36 0 0 1 706.68,250.13" fill="none" stroke="#24282c" stroke-opacity="1.00" stroke-width="1.56"/>
<path d="M706.44,249.37 A36,36 0 0 1 707.34,252.55" fill="none" stroke="#24282c" stroke-opacity="1.00" stroke-width="1.61"/>
<path d="M707.15,251.77 A36,36 0 0 1 707.83,255.01" fill="none" stroke="#24282c" stroke-opacity="1.00" stroke-width="1.66"/>
<path d="M707.69,254.22 A36,36 0 0 1 708.15,257.49" fill="none" stroke="#24282c" stroke-opacity="1.00" stroke-width="1.71"/>
<path d="M708.07,256.69 A36,36 0 0 1 708.29,259.99" fill="none" stroke="#24282c" stroke-opacity="1.00" stroke-width="1.76"/>
<path d="M708.26,259.19 A36,36 0 0 1 708.26,262.50" fill="none" stroke="#24282c" stroke-opacity="1.00" stroke-width="1.81"/>
<path d="M708.29,261.70 A36,36 0 0 1 708.05,264.99" fill="none" stroke="#24282c" stroke-opacity="1.00" stroke-width="1.86"/>
<path d="M708.14,264.20 A36,36 0 0 1 707.68,267.47" fill="none" stroke="#24282c" stroke-opacity="1.00" stroke-width="1.92"/>
<path d="M707.82,266.68 A36,36 0 0 1 707.13,269.91" fill="none" stroke="#24282c" stroke-opacity="1.00" stroke-width="1.97"/>
<path d="M707.32,269.14 A36,36 0 0 1 706.41,272.31" fill="none" stroke="#24282c" stroke-opacity="1.00" stroke-width="2.02"/>
<path d="M706.66,271.55 A36,36 0 0 1 705.53,274.66" fill="none" stroke="#24282c" stroke-opacity="1.00" stroke-width="2.08"/>
<path d="M705.83,273.91 A36,36 0 0 1 704.48,276.93" fill="none" stroke="#24282c" stroke-opacity="1.00" stroke-width="2.14"/>
<path d="M704.83,276.21 A36,36 0 0 1 703.28,279.13" fill="none" stroke="#24282c" stroke-opacity="1.00" stroke-width="2.19"/>
<path d="M703.68,278.44 A36,36 0 0 1 701.93,281.24" fill="none" stroke="#24282c" stroke-opacity="1.00" stroke-width="2.25"/>
<path d="M702.38,280.58 A36,36 0 0 1 700.44,283.25" fill="none" stroke="#24282c" stroke-opacity="1.00" stroke-width="2.31"/>
<path d="M700.93,282.62 A36,36 0 0 1 698.81,285.16" fill="none" stroke="#24282c" stroke-opacity="1.00" stroke-width="2.37"/>
<path d="M699.35,284.56 A36,36 0 0 1 697.05,286.94" fill="none" stroke="#24282c" stroke-opacity="1.00" stroke-width="2.43"/>
<path d="M697.63,286.38 A36,36 0 0 1 695.17,288.60" fill="none" stroke="#24282c" stroke-opacity="1.00" stroke-width="2.50"/>
<path d="M695.79,288.08 A36,36 0 0 1 693.19,290.12" fill="none" stroke="#24282c" stroke-opacity="1.00" stroke-width="2.56"/>
<path d="M693.83,289.65 A36,36 0 0 1 691.10,291.50" fill="none" stroke="#24282c" stroke-opacity="1.00" stroke-width="2.62"/>
<path d="M691.78,291.08 A36,36 0 0 1 688.92,292.74" fill="none" stroke="#24282c" stroke-opacity="1.00" stroke-width="2.69"/>
<path d="M689.62,292.36 A36,36 0 0 1 686.65,293.81" fill="none" stroke="#24282c" stroke-opacity="1.00" stroke-width="2.75"/>
<path d="M687.39,293.49 A36,36 0 0 1 684.32,294.73" fill="none" stroke="#24282c" stroke-opacity="1.00" stroke-width="2.82"/>
<path d="M685.08,294.46 A36,36 0 0 1 681.94,295.49" fill="none" stroke="#24282c" stroke-opacity="1.00" stroke-width="2.89"/>
<path d="M682.71,295.26 A36,36 0 0 1 679.50,296.07" fill="none" stroke="#24282c" stroke-opacity="1.00" stroke-width="2.96"/>
<path d="M680.28,295.90 A36,36 0 0 1 677.03,296.49" fill="none" stroke="#24282c" stroke-opacity="1.00" stroke-width="3.02"/>
<path d="M677.82,296.37 A36,36 0 0 1 674.54,296.73" fill="none" stroke="#24282c" stroke-opacity="1.00" stroke-width="3.09"/>
<path d="M675.34,296.67 A36,36 0 0 1 672.03,296.80" fill="none" stroke="#24282c" stroke-opacity="1.00" stroke-width="3.16"/>
<path d="M672.83,296.80 A36,36 0 0 1 669.53,296.69" fill="none" stroke="#24282c" stroke-opacity="1.00" stroke-width="3.20"/>
<path d="M670.33,296.75 A36,36 0 0 1 667.04,296.41" fill="none" stroke="#24282c" stroke-opacity="1.00" stroke-width="3.20"/>
<path d="M667.83,296.52 A36,36 0 0 1 664.58,295.96" fill="none" stroke="#24282c" stroke-opacity="1.00" stroke-width="3.20"/>
<path d="M665.36,296.13 A36,36 0 0 1 662.15,295.34" fill="none" stroke="#24282c" stroke-opacity="1.00" stroke-width="3.20"/>
<path d="M662.92,295.56 A36,36 0 0 1 659.77,294.55" fill="none" stroke="#24282c" stroke-opacity="1.00" stroke-width="3.20"/>
<path d="M660.53,294.82 A36,36 0 0 1 657.46,293.60" fill="none" stroke="#24282c" stroke-opacity="1.00" stroke-width="3.20"/>
<path d="M658.19,293.92 A36,36 0 0 1 655.21,292.49" fill="none" stroke="#24282c" stroke-opacity="1.00" stroke-width="3.20"/>
<path d="M655.92,292.86 A36,36 0 0 1 653.05,291.22" fill="none" stroke="#24282c" stroke-opacity="1.00" stroke-width="3.20"/>
<path d="M653.73,291.64 A36,36 0 0 1 650.98,289.81" fill="none" stroke="#24282c" stroke-opacity="1.00" stroke-width="3.20"/>
<path d="M651.63,290.28 A36,36 0 0 1 649.02,288.26" fill="none" stroke="#24282c" stroke-opacity="1.00" stroke-width="3.20"/>
<path d="M649.63,288.77 A36,36 0 0 1 647.16,286.57" fill="none" stroke="#24282c" stroke-opacity="1.00" stroke-width="3.20"/>
<path d="M647.74,287.12 A36,36 0 0 1 645.97,285.35" fill="none" stroke="#24282c" stroke-opacity="1.00" stroke-width="3.20"/>
<path d="M638.7,272.8 L651.6,281.4 L646.2,283.4 L640.2,288.9Z" fill="#24282c"/>
<path d="M215.0,1159.4 C217.5,1160.0 221.0,1164.8 225.0,1163.8 C229.0,1162.7 236.7,1156.6 238.8,1153.1 C240.8,1149.6 236.5,1145.6 237.5,1142.5 C238.5,1139.4 241.9,1135.8 245.0,1134.4 C248.1,1133.1 253.4,1133.1 256.2,1134.4 C259.1,1135.8 260.9,1140.0 261.9,1142.5 C262.9,1145.0 259.5,1147.0 262.5,1149.4 C265.5,1151.8 274.8,1155.3 280.0,1156.9 C285.2,1158.5 290.3,1157.0 293.8,1158.8 C297.2,1160.5 299.8,1164.4 300.6,1167.5 C301.4,1170.6 299.3,1172.9 298.8,1177.5 C298.2,1182.1 297.9,1190.0 297.5,1195.0 C297.1,1200.0 296.7,1203.3 296.2,1207.5 C295.8,1211.7 296.0,1217.1 295.0,1220.0 C294.0,1222.9 292.9,1223.3 290.0,1225.0 C287.1,1226.7 282.5,1228.5 277.5,1230.0 C272.5,1231.5 265.4,1232.9 260.0,1233.8 C254.6,1234.6 248.8,1234.2 245.0,1235.0 C241.2,1235.8 239.8,1238.8 237.5,1238.8 C235.2,1238.8 232.9,1238.1 231.2,1235.0 C229.6,1231.9 229.6,1224.2 227.5,1220.0 C225.4,1215.8 220.8,1214.2 218.8,1210.0 C216.7,1205.8 215.4,1200.4 215.0,1195.0 C214.6,1189.6 217.1,1181.0 216.2,1177.5 C215.4,1174.0 211.5,1175.6 210.0,1173.8 C208.5,1171.9 207.5,1168.5 207.5,1166.2 C207.5,1164.0 208.8,1161.1 210.0,1160.0 C211.2,1158.9 212.5,1158.8 215.0,1159.4Z" fill="#9dcfb2" stroke="#5e9e74" stroke-width="1.1"/>
<path d="M240.0,1178.8 C244.0,1175.0 256.7,1173.0 261.2,1171.2 C265.8,1169.5 265.6,1168.1 267.5,1168.1 C269.4,1168.1 270.8,1169.7 272.5,1171.2 C274.2,1172.8 274.4,1175.2 277.5,1177.5 C280.6,1179.8 289.4,1182.7 291.2,1185.0 C293.1,1187.3 289.4,1187.5 288.8,1191.2 C288.1,1195.0 289.4,1202.9 287.5,1207.5 C285.6,1212.1 281.2,1216.2 277.5,1218.8 C273.8,1221.2 269.8,1222.1 265.0,1222.5 C260.2,1222.9 252.3,1222.5 248.8,1221.2 C245.2,1220.0 245.4,1217.7 243.8,1215.0 C242.1,1212.3 239.8,1208.5 238.8,1205.0 C237.7,1201.5 237.3,1198.1 237.5,1193.8 C237.7,1189.4 236.0,1182.5 240.0,1178.8Z" fill="#6cb690" stroke="#5e9e74" stroke-width="0.9"/>
<circle cx="225" cy="1146.25" r="7.1" fill="#9dcfb2" stroke="#5e9e74" stroke-width="1.1"/>
<circle cx="282.5" cy="1141.5" r="9.75" fill="#9dcfb2" stroke="#5e9e74" stroke-width="1.1"/>
<circle cx="313.1" cy="1156.9" r="7.75" fill="#9dcfb2" stroke="#5e9e74" stroke-width="1.1"/>
<circle cx="200" cy="1184.4" r="6.25" fill="#9dcfb2" stroke="#5e9e74" stroke-width="1.1"/>
<circle cx="309.4" cy="1186.9" r="7.1" fill="#9dcfb2" stroke="#5e9e74" stroke-width="1.1"/>
<circle cx="305.6" cy="1201.9" r="3.5" fill="#9dcfb2" stroke="#5e9e74" stroke-width="1.1"/>
<circle cx="214.4" cy="1202.5" r="7.25" fill="#9dcfb2" stroke="#5e9e74" stroke-width="1.1"/>
<circle cx="210" cy="1230.6" r="11.5" fill="#9dcfb2" stroke="#5e9e74" stroke-width="1.1"/>
<circle cx="282.5" cy="1235" r="12.1" fill="#9dcfb2" stroke="#5e9e74" stroke-width="1.1"/>
<circle cx="306.25" cy="1231.9" r="7.1" fill="#9dcfb2" stroke="#5e9e74" stroke-width="1.1"/>
<rect x="886" y="963" width="193" height="192.5" fill="none" stroke="#2b2b2b" stroke-width="1.3"/>
<g transform="translate(909,978) scale(0.61)">
<line x1="0" y1="28" x2="0" y2="37" stroke="#0e5a60" stroke-width="1.8"/>
<line x1="0" y1="64" x2="0" y2="92.45901639344278" stroke="#0e5a60" stroke-width="1.8"/>
<path d="M-8.6,13.2 L3.8,12.6 L4.6,16.5 L-7,16.8Z" fill="#0e5a60" opacity="0.85"/>
<path d="M-11.5,0 L3.3,0 L3.7,13.4 L-8.4,14.2Z" fill="#1c9ea8" stroke="#0e5a60" stroke-opacity="0.7" stroke-width="0.7"/>
<path d="M-7,15.8 L4.6,15.8 L4.6,29.3 L-5.2,29.3Z" fill="#1c9ea8" stroke="#0e5a60" stroke-opacity="0.7" stroke-width="0.7"/>
<rect x="-5.3" y="36.1" width="10.3" height="16.5" fill="#1c9ea8" stroke="#0e5a60" stroke-opacity="0.7" stroke-width="0.7"/>
<rect x="-5.3" y="52.6" width="10.3" height="12.8" fill="#1c9ea8" stroke="#0e5a60" stroke-opacity="0.7" stroke-width="0.7"/>
</g>
<g transform="translate(947.5,982.3) scale(0.61)">
<path d="M-2.6,9 Q-7.4,18 -8.6,26 L-8.6,90.98360655737706" fill="none" stroke="#7a1a2a" stroke-width="1.5"/>
<path d="M9.4,14.5 Q4.6,23.5 3.6,32 L3.6,90.98360655737706" fill="none" stroke="#9a1f55" stroke-width="1.5"/>
<rect x="-5" y="-9.5" width="10" height="19" rx="1.6" transform="rotate(15)" fill="#d05a5a" stroke="#86182a" stroke-width="0.9"/>
<rect x="-5" y="-9.5" width="10" height="19" rx="1.6" transform="translate(12,5.5) rotate(15)" fill="#d9578a" stroke="#8c1650" stroke-width="0.9"/>
</g>
<g transform="translate(988.1,995.1) scale(0.61)">
<line x1="0" y1="39" x2="0" y2="72.95081967213096" stroke="#2a1238" stroke-width="2.6"/>
<path d="M-5.85,0.8 L-4.2,0 L-0.8,0 L-0.4,8.3 L5.2,12.8 L5.2,39.4 L-5.85,39.4Z" fill="#6f3f8a" stroke="#2a1238" stroke-width="0.7"/>
<path d="M7.8,12.4 L11.9,10.5 L13.1,7.2 L12.3,3 L14.6,0 L17.9,0 L19.1,2.3 L19.1,21 L17.6,22.9 L9.3,22.9 L7.6,21Z" fill="#6f3f8a" stroke="#2a1238" stroke-width="0.7"/>
<rect x="7.6" y="25.5" width="11.5" height="13.7" rx="2" fill="#6f3f8a" stroke="#2a1238" stroke-width="0.7"/>
</g>
<g transform="translate(1037.4,997.7) scale(0.61)">
<line x1="-5.95" y1="36" x2="-5.95" y2="68.68852459016371" stroke="#3d1f0a" stroke-width="2.5"/>
<line x1="6" y1="36" x2="6" y2="68.68852459016371" stroke="#3d1f0a" stroke-width="2.5"/>
<path d="M-11.9,1.1 L-10.5,0 L-7.1,0 L-6.2,8 L-1.7,12 L-1.7,36.7 L-11.9,36.7Z" fill="#8b5a2b" stroke="#4a2510" stroke-width="0.7"/>
<path d="M0.3,13.1 L2,11.4 L6,8 L6.3,1.1 L7.7,0 L11.7,2.3 L11.7,36.7 L0.3,36.7Z" fill="#8b5a2b" stroke="#4a2510" stroke-width="0.7"/>
</g>
<g transform="translate(950.7,1061.8) scale(0.61)">
<line x1="-7.75" y1="38" x2="-7.75" y2="72.78688524590179" stroke="#0b3550" stroke-width="2.2"/>
<line x1="7.75" y1="38" x2="7.75" y2="72.78688524590179" stroke="#3a0a10" stroke-width="2.2"/>
<line x1="-7.75" y1="43.5" x2="0.00" y2="43.5" stroke="#0b3550" stroke-width="1.4"/>
<line x1="0.00" y1="43.5" x2="7.75" y2="43.5" stroke="#3a0a10" stroke-width="1.4"/>
<rect x="-13.90" y="0" width="12.3" height="38" rx="0.6" fill="#1f6e9c" stroke="#0b3550" stroke-opacity="0.75" stroke-width="0.8"/>
<line x1="-13.90" y1="19.0" x2="-1.60" y2="19.0" stroke="#0b3550" stroke-opacity="0.55" stroke-width="0.8"/>
<rect x="1.60" y="0" width="12.3" height="38" rx="0.6" fill="#dc1a4a" stroke="#3a0a10" stroke-opacity="0.75" stroke-width="0.8"/>
<line x1="1.60" y1="19.0" x2="13.90" y2="19.0" stroke="#3a0a10" stroke-opacity="0.55" stroke-width="0.8"/>
</g>
<g transform="translate(1009.7,1061.8) scale(0.61)">
<line x1="7.75" y1="38" x2="7.75" y2="72.78688524590179" stroke="#7a3410" stroke-width="2.2"/>
<line x1="3.75" y1="43.5" x2="7.75" y2="43.5" stroke="#7a3410" stroke-width="1.4"/>
<rect x="1.60" y="0" width="12.3" height="38" rx="0.6" fill="#d8803e" stroke="#7a3410" stroke-opacity="0.75" stroke-width="0.8"/>
<line x1="1.60" y1="19.0" x2="13.90" y2="19.0" stroke="#7a3410" stroke-opacity="0.55" stroke-width="0.8"/>
</g>
<text x="154.20" y="121.00" font-size="20.5" textLength="134.60" lengthAdjust="spacingAndGlyphs">Réarrangement</text>
<text x="183.60" y="146.10" font-size="20.5" textLength="78.80" lengthAdjust="spacingAndGlyphs">chaine <tspan style="font-family:'Liberation Serif',serif" font-size="27">α</tspan></text>
<text x="207.00" y="170.10" font-size="20.5" textLength="30.80" lengthAdjust="spacingAndGlyphs">TCR</text>
<text x="513.80" y="127.60" font-size="20.5" textLength="79.80" lengthAdjust="spacingAndGlyphs">sélection</text>
<text x="718.60" y="88.30" font-size="20.5" textLength="134.20" lengthAdjust="spacingAndGlyphs">Réarrangement</text>
<text x="748.00" y="112.40" font-size="20.5" textLength="77.00" lengthAdjust="spacingAndGlyphs">chaine <tspan style="font-family:'Liberation Serif',serif" font-size="23">β</tspan></text>
<text x="771.00" y="137.40" font-size="20.5" textLength="31.00" lengthAdjust="spacingAndGlyphs">TCR</text>
<text x="383.60" y="231.00" font-size="20.5" textLength="79.20" lengthAdjust="spacingAndGlyphs">Stade DP</text>
<text x="363.80" y="256.10" font-size="20.5" textLength="119.20" lengthAdjust="spacingAndGlyphs">CD3<tspan dy="-8.3" font-size="11.5" style="stroke-width:0.05px">+</tspan><tspan dy="8.3">CD4</tspan><tspan dy="-8.3" font-size="11.5" style="stroke-width:0.05px">+</tspan><tspan dy="8.3">CD8</tspan><tspan dy="-8.3" font-size="11.5" style="stroke-width:0.05px">+</tspan></text>
<text x="871.40" y="234.80" font-size="20.5" textLength="80.20" lengthAdjust="spacingAndGlyphs">Stade DN</text>
<text x="852.20" y="259.70" font-size="20.5" textLength="117.80" lengthAdjust="spacingAndGlyphs">CD3<tspan dy="-8.3" font-size="11.5" style="stroke-width:0.05px">+</tspan><tspan dy="8.3">CD4</tspan><tspan dy="-8.4" font-size="9.5" style="stroke-width:0.05px">−</tspan><tspan dy="8.4">CD8</tspan><tspan dy="-8.4" font-size="9.5" style="stroke-width:0.05px">−</tspan></text>
<text x="622.40" y="324.00" font-size="20.5" textLength="111.40" lengthAdjust="spacingAndGlyphs">Prolifération</text>
<text x="209.80" y="454.40" font-size="20.5" textLength="78.40" lengthAdjust="spacingAndGlyphs">Stade DP</text>
<text x="189.60" y="479.30" font-size="20.5" textLength="119.20" lengthAdjust="spacingAndGlyphs">CD3<tspan dy="-8.3" font-size="11.5" style="stroke-width:0.05px">+</tspan><tspan dy="8.3">CD4</tspan><tspan dy="-8.3" font-size="11.5" style="stroke-width:0.05px">+</tspan><tspan dy="8.3">CD8</tspan><tspan dy="-8.3" font-size="11.5" style="stroke-width:0.05px">+</tspan></text>
<text x="517.50" y="417.90" font-size="20.5" textLength="144.50" lengthAdjust="spacingAndGlyphs">« Audition CD4 »</text>
<text x="809.80" y="524.00" font-size="20.5" textLength="118.00" lengthAdjust="spacingAndGlyphs">CPA thymique</text>
<text x="434.20" y="613.40" font-size="20.5" textLength="72.80" lengthAdjust="spacingAndGlyphs">Absence</text>
<text x="413.60" y="638.00" font-size="20.5" textLength="114.00" lengthAdjust="spacingAndGlyphs">d’interaction</text>
<text x="426.20" y="662.70" font-size="20.5" textLength="88.80" lengthAdjust="spacingAndGlyphs">suffisante</text>
<text x="694.40" y="627.90" font-size="20.5" textLength="162.60" lengthAdjust="spacingAndGlyphs">Interaction CMH-II</text>
<text x="706.80" y="652.90" font-size="20.5" textLength="137.80" lengthAdjust="spacingAndGlyphs">de longue durée</text>
<text x="304.80" y="757.45" font-size="20.5" textLength="144.40" lengthAdjust="spacingAndGlyphs">« Audition CD8 »</text>
<text x="780.60" y="904.40" font-size="20.5" textLength="75.80" lengthAdjust="spacingAndGlyphs">Stade SP</text>
<text x="759.40" y="928.10" font-size="20.5" textLength="118.20" lengthAdjust="spacingAndGlyphs">CD3<tspan dy="-8.3" font-size="11.5" style="stroke-width:0.05px">+</tspan><tspan dy="8.3">CD4</tspan><tspan dy="-8.3" font-size="11.5" style="stroke-width:0.05px">+</tspan><tspan dy="8.3">CD8</tspan><tspan dy="-8.4" font-size="9.5" style="stroke-width:0.05px">−</tspan></text>
<text x="905.40" y="809.70" font-size="20.5" textLength="92.60" lengthAdjust="spacingAndGlyphs">Expression</text>
<text x="915.80" y="833.90" font-size="20.5" textLength="76.00" lengthAdjust="spacingAndGlyphs">de <tspan style="font-style:italic">ThPok</tspan></text>
<text x="904.60" y="859.20" font-size="20.5" textLength="99.60" lengthAdjust="spacingAndGlyphs">programme</text>
<text x="910.60" y="883.40" font-size="20.5" textLength="87.40" lengthAdjust="spacingAndGlyphs">« helper »</text>
<text x="214.00" y="992.60" font-size="20.5" textLength="72.50" lengthAdjust="spacingAndGlyphs">Absence</text>
<text x="192.50" y="1017.20" font-size="20.5" textLength="115.00" lengthAdjust="spacingAndGlyphs">d’interaction</text>
<text x="205.00" y="1041.95" font-size="20.5" textLength="89.50" lengthAdjust="spacingAndGlyphs">suffisante</text>
<text x="482.20" y="1003.20" font-size="20.5" textLength="155.60" lengthAdjust="spacingAndGlyphs">Interaction CMH-I</text>
<text x="492.50" y="1027.20" font-size="20.5" textLength="135.50" lengthAdjust="spacingAndGlyphs">de courte durée</text>
<text x="215.00" y="1273.20" font-size="20.5" textLength="82.80" lengthAdjust="spacingAndGlyphs">Apoptose</text>
<text x="159.40" y="1296.70" font-size="20.5" textLength="195.00" lengthAdjust="spacingAndGlyphs" style="font-style:italic;">(« death by neglect »)</text>
<text x="557.80" y="1271.70" font-size="20.5" textLength="76.20" lengthAdjust="spacingAndGlyphs">Stade SP</text>
<text x="536.20" y="1296.70" font-size="20.5" textLength="118.80" lengthAdjust="spacingAndGlyphs">CD3<tspan dy="-8.3" font-size="11.5" style="stroke-width:0.05px">+</tspan><tspan dy="8.3">CD4</tspan><tspan dy="-8.4" font-size="9.5" style="stroke-width:0.05px">−</tspan><tspan dy="8.4">CD8</tspan><tspan dy="-8.3" font-size="11.5" style="stroke-width:0.05px">+</tspan></text>
<text x="701.00" y="1200.55" font-size="20.5" textLength="175.20" lengthAdjust="spacingAndGlyphs">Expression de <tspan style="font-style:italic">Runx3</tspan></text>
<text x="739.10" y="1225.05" font-size="20.5" textLength="100.30" lengthAdjust="spacingAndGlyphs">programme</text>
<text x="721.40" y="1250.10" font-size="20.5" textLength="135.00" lengthAdjust="spacingAndGlyphs">« cytotoxique »</text>
<text x="894.00" y="1053.20" font-size="13" textLength="21.60" lengthAdjust="spacingAndGlyphs" style="stroke-width:0.08px">CD4</text>
<text x="933.80" y="1053.20" font-size="13" textLength="23.20" lengthAdjust="spacingAndGlyphs" style="stroke-width:0.08px">CD8</text>
<text x="968.80" y="1053.20" font-size="13" textLength="37.60" lengthAdjust="spacingAndGlyphs" style="stroke-width:0.08px">CMH-I</text>
<text x="1017.00" y="1053.20" font-size="13" textLength="41.80" lengthAdjust="spacingAndGlyphs" style="stroke-width:0.08px">CMH-II</text>
<text x="935.00" y="1121.60" font-size="13" textLength="20.80" lengthAdjust="spacingAndGlyphs" style="stroke-width:0.08px">TCR</text>
<text x="901.80" y="1138.60" font-size="13" textLength="87.20" lengthAdjust="spacingAndGlyphs" style="stroke-width:0.08px">(chaine <tspan style="font-family:'Liberation Serif',serif;fill:#d81b4a" font-size="15">α</tspan> &amp; <tspan style="font-family:'Liberation Serif',serif;fill:#5aaee0" font-size="15">β</tspan>)</text>
<text x="995.80" y="1127.50" font-size="13" textLength="59.00" lengthAdjust="spacingAndGlyphs" style="stroke-width:0.08px">pre-TCR<tspan style="font-family:'Liberation Serif',serif" font-size="15">α</tspan></text>
<text x="547" y="102" font-size="27.5" style="font-family:'Liberation Serif',serif;stroke-width:0.1px">β</text>
<path d="M1006.2,826 L1023.5,826 M1016.5,819 L1023.5,826 L1016.5,833" fill="none" stroke="#000000" stroke-width="1.9"/>
<path d="M694.6,1242.5 L711.5,1242.5 M704.5,1235.5 L711.5,1242.5 L704.5,1249.5" fill="none" stroke="#000000" stroke-width="1.9"/>
</svg></body></html>
